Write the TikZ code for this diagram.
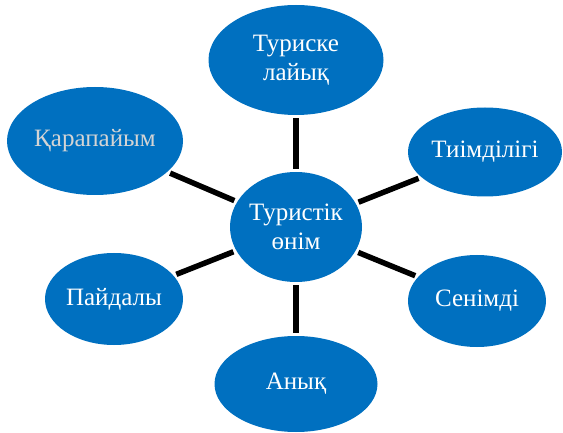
\documentclass[tikz,border=0pt]{standalone}
\usepackage{fontspec}
\setmainfont{Liberation Serif}
\usetikzlibrary{shapes.geometric}
\definecolor{kok}{HTML}{0070C0}
\definecolor{sur}{HTML}{D4D4D4}
\tikzset{
  oval/.style={ellipse,fill=kok,text=white,inner sep=-10pt,align=center,
    font=\fontsize{25}{29}\selectfont},
  zhol/.style={line width=5.5pt,shorten <=3pt,shorten >=3pt},
}

\begin{document}
\begin{tikzpicture}[x=1pt,y=-1pt]
  \useasboundingbox (0,0) rectangle (563,433);
  \node[oval,minimum width=132pt,minimum height=110pt] (onim) at (296,227) {Туристік\\өнім};
  \node[oval,minimum width=175pt,minimum height=110pt] (lajyq) at (296,60) {Туриске\\лайық};
  \node[oval,text=sur,minimum width=176pt,minimum height=108pt] (qarap) at (95,141) {Қарапайым};
  \node[oval,minimum width=154pt,minimum height=89pt] (tiim) at (485,152) {Тиімділігі};
  \node[oval,minimum width=138pt,minimum height=92pt] (pajd) at (114,299) {Пайдалы};
  \node[oval,minimum width=138pt,minimum height=92pt] (senim) at (477,301) {Сенімді};
  \node[oval,minimum width=163pt,minimum height=96pt] (anyq) at (296,384) {Анық};
  \foreach \t in {lajyq,qarap,tiim,pajd,senim,anyq}
    \draw[zhol] (onim) -- (\t);
\end{tikzpicture}
\end{document}
